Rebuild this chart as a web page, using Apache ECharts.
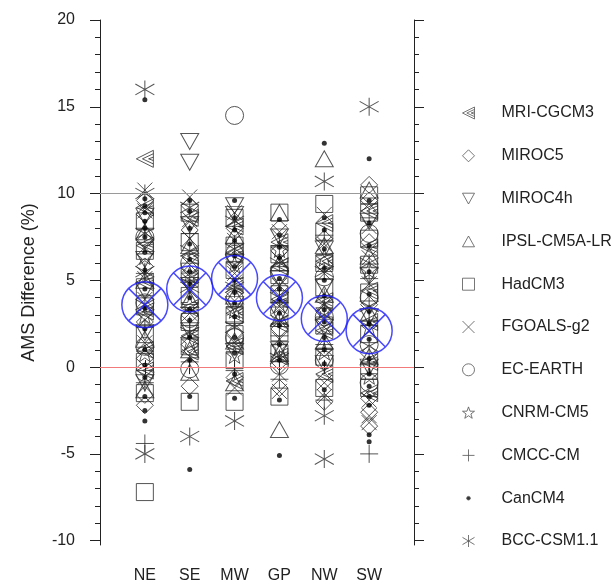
<!DOCTYPE html>
<html><head><meta charset="utf-8">
<script src="https://cdn.jsdelivr.net/npm/echarts@6/dist/echarts.min.js"></script>
<style>html,body{margin:0;padding:0;background:#fff}#c{width:612px;height:586px}</style>
</head><body><div id="c"></div><script>
// ---- data ----
const regions = ['NE', 'SE', 'MW', 'GP', 'NW', 'SW'];
const modelNames = ['MRI-CGCM3', 'MIROC5', 'MIROC4h', 'IPSL-CM5A-LR', 'HadCM3', 'FGOALS-g2', 'EC-EARTH', 'CNRM-CM5', 'CMCC-CM', 'CanCM4', 'BCC-CSM1.1'];
// each: values per region [NE, SE, MW, GP, NW, SW]
const MRI_CGCM3 = [[12.0, 9.2, 7.0, 4.9, 3.2, 1.0, -0.2], [8.6, 6.4, 5.1, 3.4, 1.8, 0.9], [8.1, 6.6, 4.7, 3.1, 1.2, -0.8], [7.2, 5.8, 3.9, 2.5, 0.6], [8.3, 6.1, 3.8, 2.1, -0.4], [9.0, 6.9, 4.4, 2.6, 0.3, -1.5]];
const MIROC5 = [[9.6, 8.8, 7.3, 5.8, 2.6, 0.5, -1.6, -2.2], [9.3, 7.9, 5.7, 3.0, 1.3, -1.1], [8.0, 6.2, 4.3, 2.0, -0.6], [8.0, 6.7, 4.6, 2.2, 0.3, -1.2], [7.4, 5.9, 3.2, 1.1, -0.8, -2.0], [10.5, 9.6, 7.2, 3.6, 0.8, -1.8, -2.6, -3.4]];
const MIROC4h = [[8.7, 6.2, 4.4, 2.0, -0.9], [13.0, 11.8, 8.2, 4.7, 2.1], [9.3, 8.8, 6.0, 3.6, 0.9], [7.5, 5.1, 3.0, 1.0], [6.8, 4.6, 2.3, 0.2], [8.4, 5.3, 2.9, 0.0]];
const IPSL_CM5A_LR = [[7.8, 5.0, 1.6, -1.3], [7.0, 3.9, 1.0, -0.3], [7.6, 4.1, 1.5, -0.9], [8.9, 6.0, 2.8, 0.8, -3.6], [12.0, 7.0, 4.2, 1.5], [10.2, 6.4, 3.1, 0.6]];
const HadCM3 = [[8.4, 6.7, 4.6, 3.5, 1.9, 0.3, -1.5, -7.2], [8.9, 7.2, 5.5, 4.1, 2.6, 1.2, -2.0], [8.6, 7.0, 5.6, 3.0, 1.9, 0.4, -2.0], [8.9, 6.5, 5.3, 4.2, 2.0, 0.8, -1.7], [9.4, 7.8, 6.0, 4.6, 2.4, 0.6, -1.2], [9.9, 8.9, 7.4, 5.9, 4.3, 1.9, -0.2, -1.2]];
const FGOALS_g2 = [[10.2, 9.0, 6.9, 5.1, 3.9, 2.7, 1.4, -0.6], [9.8, 8.5, 7.4, 5.9, 4.4, 3.1, 0.6], [8.9, 7.3, 5.4, 4.9, 3.4, 1.4, -1.2], [7.8, 6.2, 4.7, 3.5, 1.6, -0.4, -1.4], [8.8, 7.1, 5.4, 3.6, 2.3, -0.9, -1.7], [9.4, 8.1, 6.3, 4.8, 2.1, -1.9, -2.8, -3.2]];
const EC_EARTH = [[7.5, 3.7, 1.2, -0.3], [6.0, 2.8, -0.1], [14.5, 6.5, 3.9, 1.7], [5.5, 3.2, 0.1], [5.2, 2.9, 0.4], [7.7, 4.0, 1.3, -0.9]];
const CNRM_CM5 = [[6.4, 3.0, 0.8], [5.3, 3.6, 1.5], [5.9, 3.3, 0.7], [6.8, 3.6, 1.2], [6.3, 3.3, 0.9], [5.6, 2.3, -0.5]];
const CMCC_CM = [[8.0, 5.4, 2.3, -0.9, -4.4], [7.7, 4.9, 2.4, 0.3], [7.1, 4.5, 2.6, -0.2], [7.0, 4.4, 1.8, -0.7], [7.6, 4.0, 1.3, -1.9], [8.6, 5.1, 2.7, 0.2, -5.0]];
const CanCM4 = [[15.4, 9.7, 9.3, 8.9, 8.4, 8.0, 7.5, 6.6, 5.6, 4.5, 3.4, 2.2, 1.0, 0.1, -0.6, -1.7, -2.5, -3.1], [9.6, 9.0, 8.0, 7.1, 6.2, 5.5, 4.8, 4.0, 3.3, 2.7, 1.7, 0.4, -1.7, -5.9], [9.6, 8.6, 7.9, 7.3, 6.4, 5.8, 5.0, 4.3, 3.7, 2.9, 1.7, 0.8, -0.4, -1.8], [8.5, 7.6, 6.9, 6.3, 5.1, 4.5, 3.9, 3.1, 2.4, 1.3, 0.4, -1.9, -5.1], [12.9, 8.6, 7.9, 6.8, 5.7, 5.0, 4.1, 3.3, 2.6, 1.7, 1.0, 0.2, -1.3], [12.0, 9.6, 8.3, 7.0, 5.5, 4.2, 3.2, 2.5, 1.6, 0.5, -0.4, -1.1, -1.7, -2.2, -3.9, -4.3]];
const BCC_CSM1_1 = [[16.0, 10.0, 7.7, 5.5, 3.6, -5.0], [9.2, 6.7, 4.6, 2.0, -4.0], [8.4, 6.8, 4.6, 2.3, -3.1], [6.0, 4.0, 2.7, 0.5], [10.7, 5.5, 3.0, -2.8, -5.3], [15.0, 6.0, 3.5, 1.2]];
const regionMeans = [3.6, 4.5, 5.1, 4.0, 2.8, 2.1];
const yMajorTicks = [-10, -5, 0, 5, 10, 15, 20];
const yMinorTicks = [-10, -9, -8, -7, -6, -5, -4, -3, -2, -1, 0, 1, 2, 3, 4, 5, 6, 7, 8, 9, 10, 11, 12, 13, 14, 15, 16, 17, 18, 19, 20];
const refLines = [0, 10];

// ---- styling ----
const modelData = [MRI_CGCM3, MIROC5, MIROC4h, IPSL_CM5A_LR, HadCM3, FGOALS_g2, EC_EARTH, CNRM_CM5, CMCC_CM, CanCM4, BCC_CSM1_1];
const STAR = 'path://M5,0L6.18,3.38L9.76,3.45L6.9,5.62L7.94,9.05L5,7L2.06,9.05L3.1,5.62L0.24,3.45L3.82,3.38Z';
const symbols = [
  {s: 'path://M10,0L0,5L10,10Z M10,2L3.6,5L10,8 M10,4L7.2,5L10,6', size: [17, 17]},
  {s: 'path://M5,0L10,5L5,10L0,5Z', size: [17, 17]},
  {s: 'path://M0,0L10,0L5,9Z', size: [18, 16]},
  {s: 'path://M0,9L10,9L5,0Z', size: [18, 16]},
  {s: 'path://M0,0L10,0L10,10L0,10Z', size: [17, 17]},
  {s: 'path://M0,0L10,10M10,0L0,10', size: [15, 15]},
  {s: 'circle', size: [18, 18]},
  {s: STAR, size: [17, 17]},
  {s: 'path://M5,0L5,10M0,5L10,5', size: [18, 18]},
  {s: 'circle', size: [5, 5], fill: true},
  {s: 'path://M5,0L5,10 M0,2L10,8 M10,2L0,8', size: [19, 18]}
];
const DOT_ICON = 'path://M0,0M12,12M6,4.2A1.8,1.8,0,1,1,6,7.8A1.8,1.8,0,1,1,6,4.2Z';
const MEAN_SYM = 'path://M50,0A50,50,0,1,1,49.99,0Z M14.64,14.64L85.36,85.36 M85.36,14.64L14.64,85.36';
const FONT = 'Liberation Sans';
const AX = {color: '#222', width: 1};

const series = modelNames.map((name, m) => {
  const sym = symbols[m];
  const data = [];
  modelData[m].forEach((vals, r) => vals.forEach(v => data.push([r + 1, v])));
  return {
    name, type: 'scatter', data, symbol: sym.s, symbolSize: sym.size, silent: true,
    itemStyle: sym.fill ? {color: '#000', borderWidth: 0} : {color: 'transparent', borderColor: '#2a2a2a', borderWidth: 1},
    z: sym.fill ? 4 : 3
  };
});
series.push({
  name: 'mean', type: 'scatter', silent: true, z: 6,
  data: regionMeans.map((v, i) => [i + 1, v]),
  symbol: MEAN_SYM, symbolSize: 46,
  itemStyle: {color: 'transparent', borderColor: '#1a1aff', borderWidth: 1.5}
});
series.push({
  name: 'ref', type: 'scatter', data: [], silent: true, z: 1,
  markLine: {
    silent: true, symbol: 'none', label: {show: false}, animation: false,
    data: refLines.map(v => ({yAxis: v, lineStyle: {color: v === 0 ? '#f27a7a' : '#9a9a9a', width: 1, type: 'solid'}}))
  }
});

const yBase = {type: 'value', min: -10.25, max: 20, splitLine: {show: false}};
const xBase = {type: 'value', min: 0, max: 7, splitLine: {show: false}};

const legendData = modelNames.map((name, m) => {
  if (symbols[m].fill) return {name, icon: DOT_ICON};
  return {name};
});

const option = {
  animation: false,
  backgroundColor: '#fff',
  grid: {left: 100, right: 198, top: 20, bottom: 41},
  xAxis: [
    Object.assign({}, xBase, {position: 'bottom',
      axisLine: {show: true, lineStyle: AX},
      axisTick: {show: true, customValues: [1, 2, 3, 4, 5, 6], length: 7, lineStyle: AX},
      axisLabel: {customValues: [1, 2, 3, 4, 5, 6], formatter: v => regions[Math.round(v) - 1] || '', fontSize: 16, fontFamily: FONT, color: '#222', margin: 23}}),
    Object.assign({}, xBase, {position: 'top',
      axisLine: {show: true, lineStyle: AX},
      axisTick: {show: true, customValues: [1, 2, 3, 4, 5, 6], length: 7, lineStyle: AX},
      axisLabel: {show: false}})
  ],
  yAxis: [
    Object.assign({}, yBase, {position: 'left',
      axisLine: {show: true, lineStyle: AX},
      axisTick: {show: true, customValues: yMajorTicks, length: 10, lineStyle: AX},
      axisLabel: {customValues: yMajorTicks, fontSize: 16, fontFamily: FONT, color: '#222', margin: 25},
      name: 'AMS Difference (%)', nameLocation: 'middle', nameGap: 62,
      nameTextStyle: {fontSize: 18, fontFamily: FONT, color: '#222'}}),
    Object.assign({}, yBase, {position: 'left',
      axisLine: {show: false}, axisTick: {show: true, customValues: yMinorTicks, length: 5, lineStyle: AX}, axisLabel: {show: false}}),
    Object.assign({}, yBase, {position: 'right',
      axisLine: {show: true, lineStyle: AX},
      axisTick: {show: true, customValues: yMajorTicks, length: 10, lineStyle: AX}, axisLabel: {show: false}}),
    Object.assign({}, yBase, {position: 'right',
      axisLine: {show: false}, axisTick: {show: true, customValues: yMinorTicks, length: 5, lineStyle: AX}, axisLabel: {show: false}})
  ],
  legend: {
    data: legendData, orient: 'vertical', left: 462, top: 105, padding: 0,
    itemWidth: 12, itemHeight: 12, itemGap: 26.8, symbolKeepAspect: true,
    selectedMode: false,
    itemStyle: {borderWidth: 1, borderColor: '#555'},
    textStyle: {fontSize: 16, fontFamily: FONT, color: '#222', lineHeight: 16, padding: [0, 0, 0, 22]}
  },
  series
};
const chart = echarts.init(document.getElementById('c'), null, {renderer: 'canvas'});
chart.setOption(option);
</script></body></html>
